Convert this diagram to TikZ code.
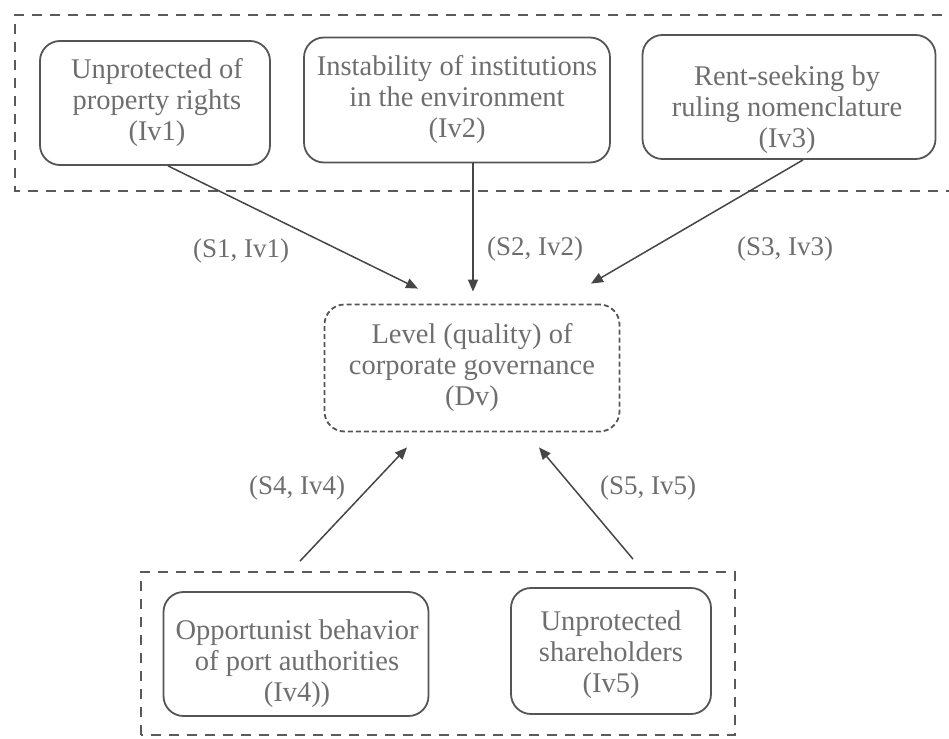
\documentclass[tikz,border=0pt]{standalone}
\usepackage{fontspec}
\setmainfont{Liberation Serif}
\usetikzlibrary{arrows.meta,calc}
\definecolor{txtgray}{RGB}{110,110,110}
\definecolor{boxgray}{RGB}{85,85,85}
\definecolor{arrgray}{RGB}{70,70,70}
\definecolor{grpgray}{RGB}{90,90,90}
\tikzset{
  x=1pt, y=-1pt,
  vbox/.style={draw=boxgray, line width=1.8pt, rounded corners=20pt, inner sep=0pt},
  dvbox/.style={draw=boxgray, line width=1.8pt, rounded corners=20pt, inner sep=0pt, dash pattern=on 5pt off 3pt},
  vtxt/.style={text=txtgray, align=center, inner sep=0pt, font=\fontsize{28.5}{31}\selectfont},
  lbl/.style={text=txtgray, inner sep=0pt, font=\fontsize{27}{32}\selectfont},
  grp/.style={draw=grpgray, line width=1.6pt, dash pattern=on 10pt off 8pt},
  arr/.style={draw=arrgray, line width=1.5pt, -{Triangle[length=12pt,width=10pt]}}
}
\begin{document}
\begin{tikzpicture}
\useasboundingbox (0,0) rectangle (949,738);
% groups
\draw[grp] (960,15) -- (15,15) -- (15,191) -- (960,191);
\draw[grp] (141,735) -- (141,572) -- (735,572) -- (735,735) -- cycle;
% top boxes
\node[vbox, minimum width=230pt, minimum height=124pt] (iv1) at (155,103) {};
\node[vtxt] (iv1t) at (157,103) {Unprotected of\\property rights\\(Iv1)};
\node[vbox, minimum width=306pt, minimum height=125pt] (iv2) at (457,100) {};
\node[vtxt] (iv2t) at (457,100) {Instability of institutions\\in the environment\\(Iv2)};
\node[vbox, minimum width=293pt, minimum height=124pt] (iv3) at (789,97) {};
\node[vtxt] (iv3t) at (787,110) {Rent-seeking by\\ruling nomenclature\\(Iv3)};
% dependent
\node[dvbox, minimum width=295pt, minimum height=127pt] (dv) at (472,368) {};
\node[vtxt] (dvt) at (472,367) {Level (quality) of\\corporate governance\\(Dv)};
% bottom boxes
\node[vbox, minimum width=265pt, minimum height=124pt] (iv4) at (296,654) {};
\node[vtxt] (iv4t) at (297,664) {Opportunist behavior\\of port authorities\\(Iv4))};
\node[vbox, minimum width=200pt, minimum height=126pt] (iv5) at (611,651) {};
\node[vtxt] (iv5t) at (611,655) {Unprotected\\shareholders\\(Iv5)};
% arrows
\draw[arr] ([xshift=13pt]iv1.south) -- ([xshift=-54pt,yshift=15pt]dv.north);
\draw[arr] ([xshift=16pt]iv2.south) -- ([xshift=1pt,yshift=12pt]dv.north);
\draw[arr] ([xshift=14pt]iv3.south) -- ([xshift=119pt,yshift=20pt]dv.north);
\draw[arr] ([xshift=4pt,yshift=30pt]iv4.north) -- ([xshift=-65pt,yshift=-15pt]dv.south);
\draw[arr] ([xshift=22pt,yshift=28pt]iv5.north) -- ([xshift=67pt,yshift=-15pt]dv.south);
% labels
\node[lbl] (l1) at (241,251) {(S1, Iv1)};
\node[lbl] (l2) at (535,249) {(S2, Iv2)};
\node[lbl] (l3) at (785,249) {(S3, Iv3)};
\node[lbl] (l4) at (297,488) {(S4, Iv4)};
\node[lbl] (l5) at (648,488) {(S5, Iv5)};
\end{tikzpicture}
\end{document}
